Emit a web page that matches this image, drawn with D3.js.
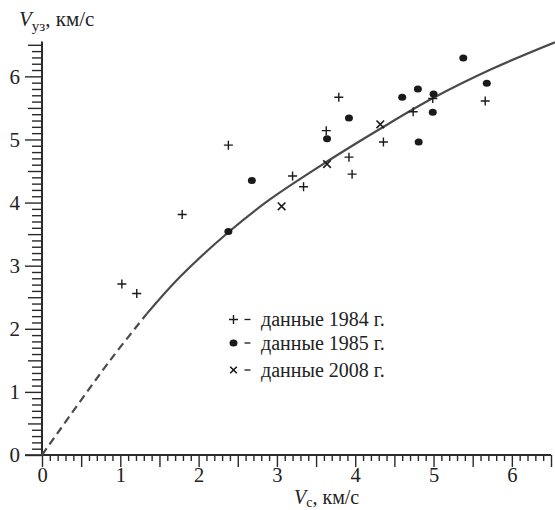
<!DOCTYPE html>
<html>
<head>
<meta charset="utf-8">
<script src="https://cdn.jsdelivr.net/npm/d3@7"></script>
<style>
  html, body { margin: 0; padding: 0; background: #fff; }
  svg { display: block; }
  svg text { font-family: "Liberation Serif", "Tinos", "Times New Roman", "DejaVu Serif", serif !important; fill: #222; }
</style>
</head>
<body>
<svg id="chart" width="555" height="510"></svg>
<script>
// ---- data ----
const data1984 = [
  [1.02, 2.71], [1.21, 2.56], [1.79, 3.81], [2.38, 4.91], [3.20, 4.42],
  [3.34, 4.25], [3.63, 5.14], [3.79, 5.67], [3.92, 4.72], [3.96, 4.45],
  [4.36, 4.96], [4.74, 5.44], [4.99, 5.65], [5.66, 5.61]
];
const data1985 = [
  [2.38, 3.54], [2.68, 4.35], [3.64, 5.01], [3.92, 5.34], [4.60, 5.67],
  [4.80, 5.80], [4.81, 4.96], [5.00, 5.72], [4.99, 5.43], [5.38, 6.29],
  [5.68, 5.89]
];
const data2008 = [
  [3.06, 3.94], [3.64, 4.61], [4.32, 5.24]
];
// fitted curve: dashed (extrapolated) part and solid part
const curveDashed = [[0, 0], [0.87, 1.50], [1.34, 2.24]];
const curveSolid = [
  [1.34, 2.24], [1.76, 2.82], [2.38, 3.53], [2.91, 4.05], [3.64, 4.65],
  [4.32, 5.17], [5.00, 5.66], [5.75, 6.12], [6.55, 6.54]
];
const xTickLabels = [0, 1, 2, 3, 4, 5, 6];
const yTickLabels = [0, 1, 2, 3, 4, 5, 6];
const legendLabels = ["данные 1984 г.", "данные 1985 г.", "данные 2008 г."];
const xTitle = { main: "V", sub: "с", rest: ", км/с" };
const yTitle = { main: "V", sub: "уз", rest: ", км/с" };

// ---- drawing ----
const FONT = "'Liberation Serif', Tinos, 'Times New Roman', 'DejaVu Serif', serif";
const svg = d3.select("#chart");
const x = d3.scaleLinear().domain([0, 6.5]).range([42, 551]);
const y = d3.scaleLinear().domain([0, 6.5]).range([455, 44.8]);
const axisColor = "#2a2a2a";

const minorVals = d3.range(0, 66).map(i => i / 10).filter(v => Math.round(v * 10) % 5 !== 0);
const halfVals = d3.range(0, 14).map(i => i / 2).filter(v => v % 1 !== 0);

function styleAxis(g) {
  g.attr("font-family", FONT);
  g.select(".domain").attr("stroke", axisColor).attr("stroke-width", 1.6);
  g.selectAll(".tick line").attr("stroke", axisColor).attr("stroke-width", 1.4);
}

// X axis
const gx = svg.append("g").attr("transform", `translate(0,${y(0)})`);
gx.append("g").call(d3.axisBottom(x).tickValues(minorVals).tickSize(6).tickFormat("").tickSizeOuter(0)).call(styleAxis);
gx.append("g").call(d3.axisBottom(x).tickValues(halfVals).tickSize(12).tickFormat("").tickSizeOuter(0)).call(styleAxis);
const gxMajor = gx.append("g").call(d3.axisBottom(x).tickValues(xTickLabels).tickFormat(d3.format("d"))
  .tickSize(12).tickPadding(1).tickSizeOuter(0)).call(styleAxis);
gxMajor.selectAll(".tick text").attr("font-size", 20.5).attr("dy", "0.7em").attr("fill", "#222");
// extend x-axis line leftwards (zero tick of y axis)
svg.append("line").attr("x1", 25).attr("x2", x(0)).attr("y1", y(0)).attr("y2", y(0))
  .attr("stroke", axisColor).attr("stroke-width", 1.6);

// Y axis
const gy = svg.append("g").attr("transform", `translate(${x(0)},0)`);
gy.append("g").call(d3.axisLeft(y).tickValues(minorVals).tickSize(10).tickFormat("").tickSizeOuter(0)).call(styleAxis);
gy.append("g").call(d3.axisLeft(y).tickValues(halfVals).tickSize(14).tickFormat("").tickSizeOuter(0)).call(styleAxis);
const gyMajor = gy.append("g").call(d3.axisLeft(y).tickValues(yTickLabels).tickFormat(d3.format("d"))
  .tickSize(17).tickPadding(5).tickSizeOuter(0)).call(styleAxis);
gyMajor.selectAll(".tick text").attr("font-size", 21).attr("fill", "#222");
gy.selectAll(".domain").attr("d", `M0,${y(6.55)}V${y(0)}`);
gx.selectAll(".domain").attr("d", `M${x(0)},0H${x(6.5)}`);

// curve
const line = d3.line().x(d => x(d[0])).y(d => y(d[1])).curve(d3.curveCatmullRom.alpha(0.5));
svg.append("path").datum(curveDashed).attr("d", line)
  .attr("fill", "none").attr("stroke", "#4a4a4a").attr("stroke-width", 2.2)
  .attr("stroke-dasharray", "8,5");
svg.append("path").datum(curveSolid).attr("d", line)
  .attr("fill", "none").attr("stroke", "#4a4a4a").attr("stroke-width", 2.2);

// markers
const markColor = "#1a1a1a";
function plus(g, cx, cy, s) {
  g.append("path").attr("d", `M${cx - s},${cy}H${cx + s}M${cx},${cy - s}V${cy + s}`)
    .attr("stroke", markColor).attr("stroke-width", 1.4).attr("fill", "none");
}
function cross(g, cx, cy, s) {
  g.append("path").attr("d", `M${cx - s},${cy - s}L${cx + s},${cy + s}M${cx - s},${cy + s}L${cx + s},${cy - s}`)
    .attr("stroke", markColor).attr("stroke-width", 1.6).attr("fill", "none");
}
function dot(g, cx, cy) {
  g.append("ellipse").attr("cx", cx).attr("cy", cy).attr("rx", 4).attr("ry", 3.5).attr("fill", markColor);
}
const gm = svg.append("g");
data1984.forEach(d => plus(gm, x(d[0]), y(d[1]), 4.5));
data1985.forEach(d => dot(gm, x(d[0]), y(d[1])));
data2008.forEach(d => cross(gm, x(d[0]), y(d[1]), 3.8));

// legend
const lg = svg.append("g");
const legY = [319.5, 343, 370];
const markers = [
  (g, cx, cy) => plus(g, cx, cy, 4.5),
  (g, cx, cy) => dot(g, cx, cy),
  (g, cx, cy) => cross(g, cx, cy, 3.3)
];
legendLabels.forEach((lab, i) => {
  markers[i](lg, 233.5, legY[i]);
  lg.append("line").attr("x1", 244.5).attr("x2", 250.5).attr("y1", legY[i]).attr("y2", legY[i])
    .attr("stroke", markColor).attr("stroke-width", 1.3);
  lg.append("text").attr("x", 261).attr("y", legY[i]).attr("dy", "0.33em")
    .attr("font-family", FONT).attr("font-size", 20).text(lab);
});

// axis titles
function title(tx, ty, t, fs, subFs, subDy) {
  const tt = svg.append("text").attr("x", tx).attr("y", ty).attr("font-family", FONT).attr("font-size", fs);
  tt.append("tspan").attr("font-style", "italic").text(t.main);
  tt.append("tspan").attr("font-size", subFs).attr("dy", subDy).text(t.sub);
  tt.append("tspan").attr("dy", -subDy).text(t.rest);
}
title(19, 26, yTitle, 21, 15, 5);
title(294, 504, xTitle, 20, 14, 3);
</script>
</body>
</html>
